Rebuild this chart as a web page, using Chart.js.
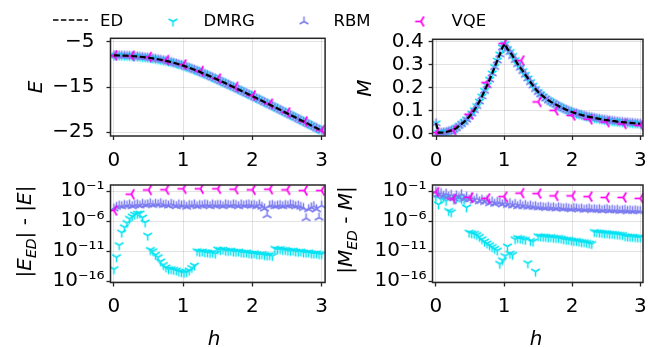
<!DOCTYPE html>
<html>
<head>
<meta charset="utf-8">
<title>ED / DMRG / RBM / VQE</title>
<script src="https://cdn.jsdelivr.net/npm/chart.js@4.4.1/dist/chart.umd.min.js"></script>
<style>
  html, body { margin: 0; padding: 0; background: #fff; }
  #wrap { position: relative; width: 648px; height: 347px; overflow: hidden; }
  #wrap canvas { position: absolute; left: 0; top: 0; width: 648px; height: 347px; }
</style>
</head>
<body>
<div id="wrap">
  <canvas id="energy" width="648" height="347"></canvas>
  <canvas id="magnet" width="648" height="347"></canvas>
  <canvas id="energyErr" width="648" height="347"></canvas>
  <canvas id="magnetErr" width="648" height="347"></canvas>
</div>
<script>
// field values h used for ED / DMRG / RBM
const hGrid = [
  0, 0.0375, 0.075, 0.1125, 0.15, 0.1875, 0.225, 0.2625, 0.3, 0.3375,
  0.375, 0.4125, 0.45, 0.4875, 0.525, 0.5625, 0.6, 0.6375, 0.675, 0.7125,
  0.75, 0.7875, 0.825, 0.8625, 0.9, 0.9375, 0.975, 1.0125, 1.05, 1.0875,
  1.125, 1.1625, 1.2, 1.2375, 1.275, 1.3125, 1.35, 1.3875, 1.425, 1.4625,
  1.5, 1.5375, 1.575, 1.6125, 1.65, 1.6875, 1.725, 1.7625, 1.8, 1.8375,
  1.875, 1.9125, 1.95, 1.9875, 2.025, 2.0625, 2.1, 2.1375, 2.175, 2.2125,
  2.25, 2.2875, 2.325, 2.3625, 2.4, 2.4375, 2.475, 2.5125, 2.55, 2.5875,
  2.625, 2.6625, 2.7, 2.7375, 2.775, 2.8125, 2.85, 2.8875, 2.925, 2.9625,
  3.0
];
// field values used for VQE
const hVQE = [0, 0.25, 0.5, 0.75, 1, 1.25, 1.5, 1.75, 2, 2.25, 2.5, 2.75, 3];

// ground state energy (ED, DMRG and RBM coincide at this scale)
const energyED = [
  -8.00, -8.00, -8.01, -8.03, -8.05, -8.07, -8.10, -8.14, -8.18, -8.23,
  -8.29, -8.35, -8.41, -8.48, -8.57, -8.65, -8.75, -8.85, -8.96, -9.07,
  -9.19, -9.32, -9.47, -9.62, -9.78, -9.95, -10.13, -10.32, -10.52, -10.73,
  -10.94, -11.16, -11.39, -11.63, -11.87, -12.11, -12.36, -12.61, -12.87, -13.13,
  -13.39, -13.65, -13.91, -14.18, -14.45, -14.72, -14.99, -15.26, -15.54, -15.82,
  -16.09, -16.37, -16.65, -16.93, -17.21, -17.49, -17.77, -18.05, -18.34, -18.62,
  -18.90, -19.19, -19.47, -19.76, -20.04, -20.33, -20.62, -20.91, -21.19, -21.48,
  -21.77, -22.06, -22.35, -22.64, -22.93, -23.22, -23.51, -23.80, -24.09, -24.38,
  -24.67
];
const energyVQE = [-8.00, -8.10, -8.35, -9.01, -10.00, -11.46, -13.14, -14.96, -16.85, -18.69, -20.64, -22.61, -24.55];

// magnetisation
const magED = [
  0.045, 0.004, 0.004, 0.005, 0.007, 0.010, 0.014, 0.018, 0.024, 0.034,
  0.042, 0.051, 0.061, 0.074, 0.087, 0.102, 0.120, 0.140, 0.162, 0.186,
  0.210, 0.235, 0.262, 0.290, 0.318, 0.345, 0.375, 0.390, 0.368, 0.355,
  0.338, 0.320, 0.302, 0.287, 0.272, 0.256, 0.240, 0.224, 0.209, 0.194,
  0.181, 0.171, 0.162, 0.153, 0.145, 0.138, 0.132, 0.126, 0.120, 0.114,
  0.109, 0.104, 0.099, 0.095, 0.091, 0.088, 0.084, 0.081, 0.078, 0.075,
  0.073, 0.071, 0.068, 0.066, 0.064, 0.062, 0.060, 0.059, 0.057, 0.055,
  0.054, 0.052, 0.051, 0.050, 0.049, 0.048, 0.047, 0.046, 0.045, 0.044,
  0.043
];
const magVQE = [0.005, 0.015, 0.084, 0.222, 0.392, 0.318, 0.138, 0.101, 0.079, 0.062, 0.050, 0.042, 0.036];

// errors, stored as log10 of the value
const logErrEnergyDMRG = [
  -14.0, -12.0, -10.0, -7.9, -7.0, -6.3, -5.6, -5.2, -4.9, -4.75,
  -4.7, -5.4, -6.2, -8.4, -10.8, -11.0, -11.6, -12.0, -12.7, -13.3,
  -13.7, -14.0, -14.0, -14.1, -14.2, -14.4, -14.5, -14.6, -14.5, -14.2,
  -13.8, -13.4, -11.0, -11.1, -11.05, -11.2, -11.2, -11.3, -11.25, -11.4,
  -10.7, -10.8, -10.75, -10.9, -10.95, -10.9, -11.05, -11.1, -11.05, -11.2,
  -11.25, -11.2, -11.35, -11.4, -11.35, -11.5, -11.55, -11.5, -11.65, -11.7,
  -11.65, -11.8, -10.6, -10.7, -10.65, -10.8, -10.8, -10.9, -10.95, -10.9,
  -11.05, -11.1, -11.05, -11.2, -11.25, -11.2, -11.35, -11.4, -11.35, -11.5,
  -11.5
];
const logErrEnergyRBM = [
  -3.9, -3.6, -3.4, -3.5, -3.3, -3.4, -3.2, -3.5, -3.3, -3.2,
  -3.4, -3.1, -3.3, -3.2, -3.0, -3.3, -3.1, -3.2, -3.0, -3.3,
  -3.2, -3.4, -3.1, -3.3, -3.5, -3.2, -3.4, -3.3, -3.6, -3.3,
  -3.4, -3.2, -3.5, -3.3, -3.4, -3.2, -3.3, -3.5, -3.2, -3.4,
  -3.3, -3.3, -3.5, -3.2, -3.3, -3.4, -3.2, -3.3, -3.5, -3.2,
  -3.4, -3.3, -3.2, -3.4, -3.3, -3.5, -3.2, -3.6, -3.9, -5.0,
  -3.4, -3.3, -3.5, -3.4, -3.3, -3.5, -3.3, -3.4, -3.2, -3.3,
  -3.5, -3.4, -3.6, -3.8, -5.5, -4.0, -3.7, -3.5, -4.0, -5.4,
  -3.4
];
const logErrEnergyVQE = [-4.2, -1.5, -0.8, -0.75, -0.6, -0.6, -0.6, -0.67, -0.77, -0.67, -0.77, -0.9, -0.9];

const logErrMagDMRG = [
  -2.0, -3.2, -2.3, -2.0, -2.6, -4.3, -4.5, -2.4, -2.2, -2.0,
  -2.3, -2.5, -3.7, -7.9, -8.0, -8.1, -8.3, -8.6, -9.0, -9.4,
  -9.7, -10.0, -10.3, -10.6, -10.9, -13.1, -12.5, -11.8, -10.2, -11.4,
  -11.6, -9.0, -8.8, -8.9, -9.0, -9.1, -13.0, -9.3, -9.4, -14.4,
  -8.5, -8.55, -8.6, -8.6, -8.7, -8.65, -8.75, -8.8, -8.8, -8.9,
  -9.0, -9.1, -9.1, -9.2, -9.3, -9.3, -9.4, -9.5, -9.5, -9.6,
  -9.7, -9.8, -7.8, -7.85, -7.9, -7.95, -8.0, -8.0, -8.1, -8.1,
  -8.15, -8.2, -8.25, -8.3, -8.5, -8.55, -8.6, -8.6, -8.65, -8.7,
  -8.7
];
const logErrMagRBM = [
  -1.1, -1.5, -1.3, -1.8, -1.4, -1.9, -1.6, -2.2, -1.7, -2.0,
  -1.5, -2.3, -1.9, -2.4, -2.1, -2.6, -2.2, -2.7, -2.4, -2.8,
  -2.5, -3.0, -2.7, -3.1, -2.8, -2.9, -3.2, -2.9, -3.3, -3.0,
  -3.4, -3.1, -3.5, -3.2, -3.5, -3.3, -3.6, -3.4, -3.6, -3.5,
  -3.7, -3.6, -3.7, -3.8, -3.6, -3.8, -3.7, -3.9, -3.7, -3.8,
  -3.9, -3.8, -3.9, -4.0, -3.8, -3.9, -4.0, -3.9, -4.1, -4.0,
  -3.9, -4.1, -4.0, -4.1, -4.0, -4.2, -4.1, -4.0, -4.2, -4.1,
  -4.2, -4.1, -4.3, -4.2, -4.1, -4.3, -4.2, -4.3, -4.2, -4.3,
  -4.3
];
const logErrMagVQE = [-1.15, -2.3, -2.05, -2.2, -1.9, -1.33, -1.4, -1.77, -1.77, -1.9, -2.05, -2.05, -2.2];

// ticks
const xTicks = [0, 1, 2, 3];
const xTickLabels = ['0', '1', '2', '3'];
const yTicksE = [-25, -15, -5];
const yTickLabelsE = ['\u221225', '\u221215', '\u22125'];
const yTicksM = [0, 0.1, 0.2, 0.3, 0.4];
const yTickLabelsM = ['0.0', '0.1', '0.2', '0.3', '0.4'];
const yTicksErr = [1e-16, 1e-11, 1e-6, 1e-1];
const yTickLabelsErr = ['10\u207B\u00B9\u2076', '10\u207B\u00B9\u00B9', '10\u207B\u2076', '10\u207B\u00B9'];

const FONT = "'DejaVu Sans', sans-serif";
const GRID = 'rgba(0,0,0,0.11)';
const AXIS = '#262626';
const C_ED = '#000';
const C_DMRG = '#00e2f2';
const C_RBM = '#7a7af0';
const C_VQE = '#ff00f0';

// matplotlib style tri markers: 1 = tri_down, 2 = tri_up, 3 = tri_left
function triMarker(color, angle, r, lw) {
  const size = Math.ceil(2 * r + 2 * lw) + 2;
  const c = document.createElement('canvas');
  c.width = size; c.height = size;
  const g = c.getContext('2d');
  g.translate(size / 2, size / 2);
  g.strokeStyle = color;
  g.lineWidth = lw;
  for (let k = 0; k < 3; k++) {
    const a = (angle + 120 * k) * Math.PI / 180;
    g.beginPath();
    g.moveTo(0, 0);
    g.lineTo(r * Math.cos(a), r * Math.sin(a));
    g.stroke();
  }
  return c;
}
const mDMRG = triMarker(C_DMRG, 90, 5, 1.5);
const mRBM = triMarker(C_RBM, -90, 5, 1.5);
const mVQE = triMarker(C_VQE, 180, 5.8, 1.7);

const pts = (xs, ys) => xs.map((x, i) => ({ x, y: ys[i] }));
const pow10 = arr => arr.map(v => Math.pow(10, v));

function drawLabel(ctx, l) {
  ctx.save();
  ctx.translate(l.x, l.y);
  ctx.rotate(l.rot * Math.PI / 180);
  const fontOf = r => (r.i ? 'italic ' : '') + (r.sub ? l.size * 0.7 : l.size) + 'px ' + FONT;
  let total = 0;
  const widths = l.runs.map(r => { ctx.font = fontOf(r); const w = ctx.measureText(r.t).width; total += w; return w; });
  let x = -total / 2;
  const base = l.size * 0.36;
  ctx.fillStyle = '#000';
  ctx.textAlign = 'left';
  ctx.textBaseline = 'alphabetic';
  l.runs.forEach((r, k) => {
    ctx.font = fontOf(r);
    ctx.fillText(r.t, x, base + (r.sub ? l.size * 0.22 : 0));
    x += widths[k];
  });
  ctx.restore();
}

function drawLegend(ctx, items) {
  ctx.save();
  ctx.font = '16.5px ' + FONT;
  ctx.fillStyle = '#000';
  ctx.textBaseline = 'alphabetic';
  items.forEach(it => {
    if (it.dash) {
      ctx.save();
      ctx.strokeStyle = C_ED;
      ctx.lineWidth = 1.7;
      ctx.setLineDash([5.5, 2.4]);
      ctx.beginPath();
      ctx.moveTo(it.x0, it.y);
      ctx.lineTo(it.x1, it.y);
      ctx.stroke();
      ctx.restore();
    } else {
      ctx.drawImage(it.img, it.x - it.img.width / 2, it.y - it.img.height / 2);
    }
    ctx.fillText(it.text, it.tx, 26);
  });
  ctx.restore();
}

function decor(labels, legend) {
  return {
    id: 'decor',
    afterDatasetsDraw(chart) {
      const { ctx, chartArea: a } = chart;
      ctx.save();
      ctx.strokeStyle = AXIS;
      ctx.lineWidth = 1.5;
      ctx.strokeRect(a.left, a.top, a.right - a.left, a.bottom - a.top);
      ctx.restore();
    },
    afterDraw(chart) {
      labels.forEach(l => drawLabel(chart.ctx, l));
      if (legend) drawLegend(chart.ctx, legend);
    }
  };
}

function xScale(max, pad) {
  return {
    type: 'linear', min: -0.05, max: max,
    afterBuildTicks: s => { s.ticks = xTicks.map(v => ({ value: v })); },
    afterFit: s => { s.height = 40; s.paddingLeft = 0; s.paddingRight = 0; },
    grid: { color: GRID, lineWidth: 1, tickLength: 4, tickColor: AXIS, tickWidth: 1.3 },
    border: { display: false },
    ticks: { color: '#000', font: { family: FONT, size: 20 }, padding: pad, maxRotation: 0, autoSkip: false,
             callback: (v, i) => xTickLabels[i] }
  };
}

function yScale(type, min, max, ticks, labels, pad) {
  return {
    type: type, min: min, max: max,
    afterBuildTicks: s => { s.ticks = ticks.map(v => ({ value: v })); },
    afterFit: s => { s.width = 60; s.paddingTop = 0; s.paddingBottom = 0; },
    grid: { color: GRID, lineWidth: 1, tickLength: 4, tickColor: AXIS, tickWidth: 1.3 },
    border: { display: false },
    ticks: { color: '#000', font: { family: FONT, size: 20 }, padding: pad, autoSkip: false,
             callback: (v, i) => labels[i] }
  };
}

function markers(label, xs, ys, img) {
  return { label, data: pts(xs, ys), pointStyle: img, pointRadius: 4, showLine: false, clip: 0,
           borderColor: 'rgba(0,0,0,0)', backgroundColor: 'rgba(0,0,0,0)' };
}
function edLine(xs, ys) {
  return { label: 'ED', data: pts(xs, ys), showLine: true, pointRadius: 0, borderColor: C_ED,
           borderWidth: 2.2, borderDash: [6, 2.6], fill: false, clip: 0 };
}

function makeChart(id, cfg) {
  return new Chart(document.getElementById(id), {
    type: 'scatter',
    data: { datasets: cfg.datasets },
    options: {
      responsive: false, animation: false, devicePixelRatio: 1, events: [],
      layout: { padding: cfg.pad },
      plugins: { legend: { display: false }, tooltip: { enabled: false } },
      scales: { x: cfg.x, y: cfg.y }
    },
    plugins: [decor(cfg.labels, cfg.legend)]
  });
}

const legendItems = [
  { dash: true, x0: 53, x1: 88, y: 20, tx: 100, text: 'ED' },
  { img: mDMRG, x: 173, y: 21.5, tx: 203.5, text: 'DMRG' },
  { img: mRBM, x: 304, y: 21.5, tx: 333.5, text: 'RBM' },
  { img: mVQE, x: 421, y: 21.5, tx: 451.5, text: 'VQE' }
];

makeChart('energy', {
  pad: { left: 50.5, right: 322.9, top: 38.3, bottom: 171 },
  x: xScale(3.05, 9),
  y: yScale('linear', -25.85, -4.2, yTicksE, yTickLabelsE, 12),
  datasets: [
    edLine(hGrid, energyED),
    markers('VQE', hVQE, energyVQE, mVQE),
    markers('RBM', hGrid, energyED, mRBM),
    markers('DMRG', hGrid, energyED, mDMRG)
  ],
  labels: [{ x: 35, y: 87, rot: -90, size: 20, runs: [{ t: 'E', i: true }] }],
  legend: legendItems
});

makeChart('magnet', {
  pad: { left: 372.6, right: 1.2, top: 39.3, bottom: 171 },
  x: xScale(3.04, 9),
  y: yScale('linear', -0.0104, 0.4104, yTicksM, yTickLabelsM, 5),
  datasets: [
    edLine(hGrid, magED),
    markers('VQE', hVQE, magVQE, mVQE),
    markers('RBM', hGrid, magED, mRBM),
    markers('DMRG', hGrid, magED, mDMRG)
  ],
  labels: [{ x: 364, y: 88, rot: -90, size: 20, runs: [{ t: 'M', i: true }] }]
});

makeChart('energyErr', {
  pad: { left: 50.5, right: 322.9, top: 185, bottom: 24.5 },
  x: xScale(3.05, 8),
  y: yScale('logarithmic', Math.pow(10, -16.22), Math.pow(10, 0.033), yTicksErr, yTickLabelsErr, 2),
  datasets: [
    markers('VQE', hVQE, pow10(logErrEnergyVQE), mVQE),
    markers('RBM', hGrid, pow10(logErrEnergyRBM), mRBM),
    markers('DMRG', hGrid, pow10(logErrEnergyDMRG), mDMRG)
  ],
  labels: [
    { x: 24, y: 231.5, rot: -90, size: 20,
      runs: [{ t: '|' }, { t: 'E', i: true }, { t: 'ED', i: true, sub: true }, { t: '| - |' }, { t: 'E', i: true }, { t: '|' }] },
    { x: 214, y: 338, rot: 0, size: 20, runs: [{ t: 'h', i: true }] }
  ]
});

makeChart('magnetErr', {
  pad: { left: 372.5, right: 1.2, top: 185, bottom: 24.5 },
  x: xScale(3.04, 8),
  y: yScale('logarithmic', Math.pow(10, -16.22), Math.pow(10, 0.033), yTicksErr, yTickLabelsErr, 2),
  datasets: [
    markers('VQE', hVQE, pow10(logErrMagVQE), mVQE),
    markers('RBM', hGrid, pow10(logErrMagRBM), mRBM),
    markers('DMRG', hGrid, pow10(logErrMagDMRG), mDMRG)
  ],
  labels: [
    { x: 345, y: 230, rot: -90, size: 20,
      runs: [{ t: '|' }, { t: 'M', i: true }, { t: 'ED', i: true, sub: true }, { t: ' - ' }, { t: 'M', i: true }, { t: '|' }] },
    { x: 536, y: 338, rot: 0, size: 20, runs: [{ t: 'h', i: true }] }
  ]
});
</script>
</body>
</html>
